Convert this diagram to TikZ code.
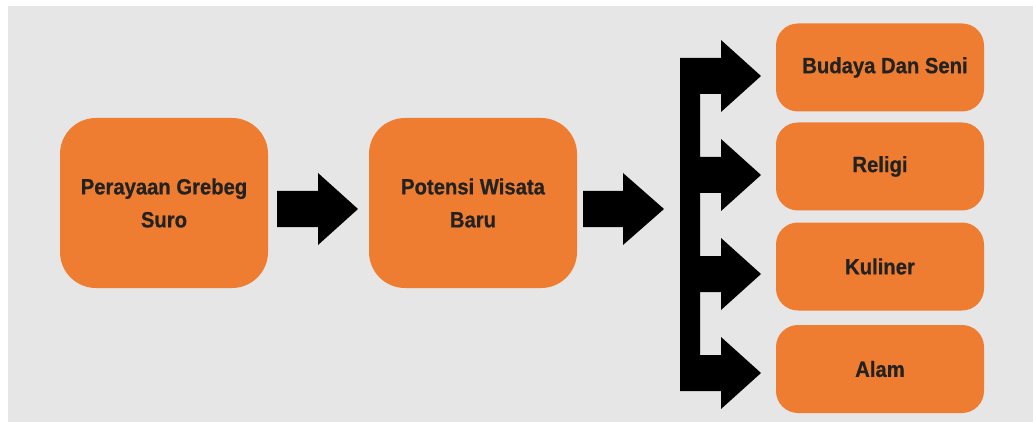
\documentclass[tikz,border=0pt]{standalone}
\usepackage{fontspec}
\newfontfamily\lbl[FakeStretch=0.92,BoldFeatures={FakeBold=0.6}]{Liberation Sans}
\definecolor{bggray}{HTML}{E7E6E6}
\definecolor{boxorange}{HTML}{EE7D31}
\definecolor{txt}{HTML}{222222}
\begin{document}
\begin{tikzpicture}[x=1pt,y=-1pt,
  bigbox/.style={fill=boxorange, rounded corners=36pt, minimum width=208pt, minimum height=170pt,
     inner sep=0pt, align=center, text=txt, font={\lbl\bfseries\fontsize{22}{33}\selectfont}},
  smallbox/.style={fill=boxorange, rounded corners=22pt, minimum width=208pt, minimum height=88pt,
     inner sep=0pt, align=center, text=txt, font={\lbl\bfseries\fontsize{22}{26}\selectfont}},
  blockarrow/.style={fill=black}]
\useasboundingbox (0,0) rectangle (1033,422);
\fill[white] (0,0) rectangle (1033,422);
\fill[bggray] (8,6) rectangle (1033,422);

\node[bigbox] (grebeg) at (164,203) {Perayaan Grebeg\\Suro};
\node[bigbox] (potensi) at (473,203) {Potensi Wisata\\Baru};

\node[smallbox] (budaya) at (880,67.5) {\hspace*{10pt}Budaya Dan Seni};
\node[smallbox] (religi) at (880,166.5) {Religi};
\node[smallbox] (kuliner) at (880,266.5) {Kuliner};
\node[smallbox] (alam) at (880,369) {Alam};

% block arrows between the two large boxes
\fill[blockarrow] (277,191) -- (318,191) -- (318,173) -- (358,209) -- (318,245) -- (318,227) -- (277,227) -- cycle;
\fill[blockarrow] (583,191) -- (623,191) -- (623,173) -- (664,209) -- (623,245) -- (623,227) -- (583,227) -- cycle;

% branching bracket arrow
\fill[blockarrow] (680,58) -- (721,58) -- (721,40) -- (761,76) -- (721,112) -- (721,94)
  -- (700,94) -- (700,157) -- (721,157) -- (721,139) -- (761,175) -- (721,211) -- (721,193)
  -- (700,193) -- (700,256) -- (721,256) -- (721,238) -- (761,274) -- (721,310) -- (721,292)
  -- (700,292) -- (700,355) -- (721,355) -- (721,337) -- (761,373) -- (721,409) -- (721,391)
  -- (680,391) -- cycle;
\end{tikzpicture}
\end{document}
